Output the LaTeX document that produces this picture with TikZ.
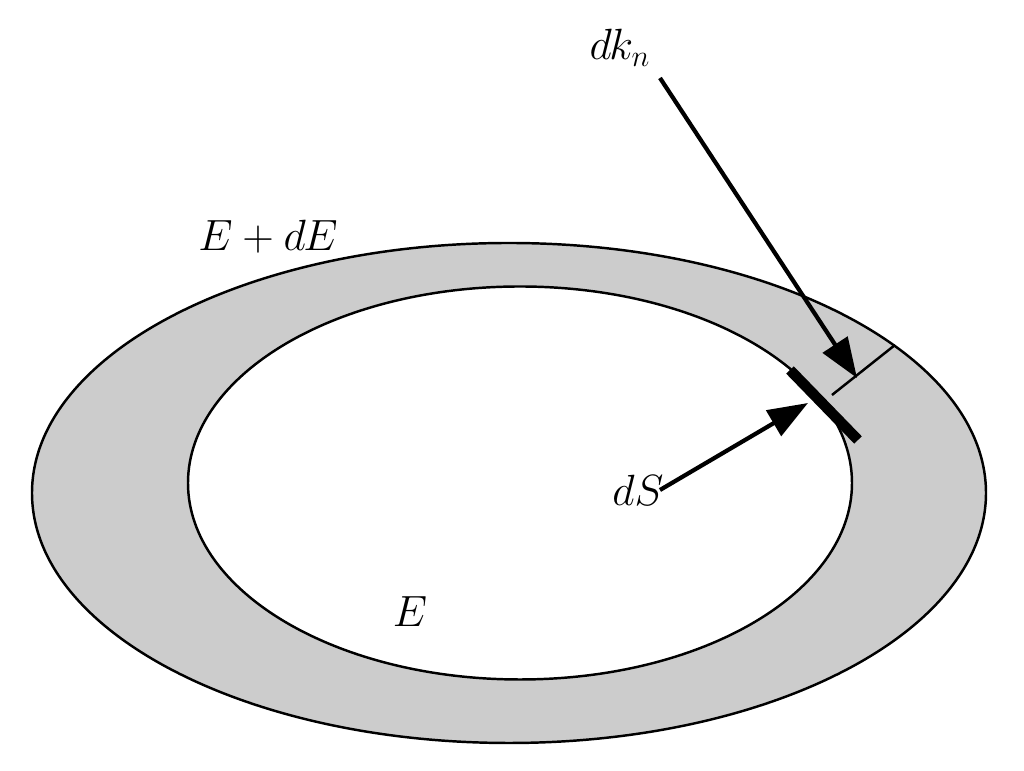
\documentclass[tikz,border=0pt]{standalone}
\usepackage{fontspec}
\setmainfont{TeX Gyre Heros}
\usetikzlibrary{arrows.meta}
\def\lwidth{1.4}
\begin{document}
\begin{tikzpicture}[lbl/.style={font=\fontsize{23}{26}\selectfont\itshape,inner sep=0pt},
  ptr/.style={line width=2.4pt,-{Triangle[length=8mm,width=6mm,angle'=40]}}]
	\useasboundingbox (0,0) rectangle (20.48,15.42);
	\fill[gray!40,draw=black,line width=\lwidth pt] (10.18,5.56) ellipse (9.54 and 5.0);
	\fill[white,draw=black,line width=\lwidth pt] (10.4,5.76) ellipse (6.64 and 3.93);
	\coordinate (ai) at (16.64,7.52);
	\coordinate (ao) at (17.9,8.52);
	\draw[line width=\lwidth pt] (ai) -- (ao);
	\coordinate (s1) at (15.8,8.02);
	\coordinate (s2) at (17.16,6.62);
	\draw[line width=6pt] (s1) -- (s2);
	\node[lbl] (dkn) at (12.4,14.46) {$d\mkern-1mu k_n$};
	\node[lbl] (ede) at (5.36,10.68) {$E+d\mkern-1mu E$};
	\node[lbl] (ds) at (12.76,5.62) {$dS$};
	\node[lbl] (e) at (8.2,3.18) {$E$};
	\coordinate (dkt) at (17.14,7.86);
	\coordinate (dst) at (16.16,7.36);
	\draw[ptr] (13.2,13.86) -- (dkt);
	\draw[ptr] (13.2,5.62) -- (dst);
\end{tikzpicture}
\end{document}
